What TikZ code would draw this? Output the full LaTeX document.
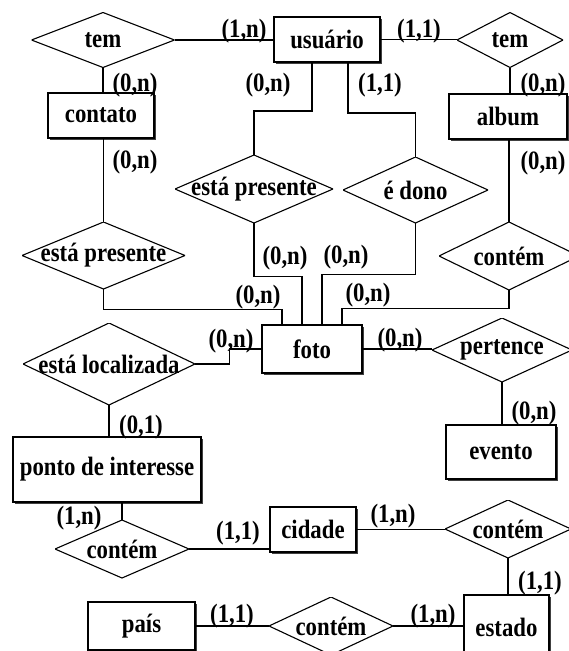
\documentclass[tikz,border=0pt]{standalone}
\usepackage{fontspec}
\setmainfont{Liberation Serif}
\newfontfamily\erfont{Liberation Serif}[FakeStretch=0.86]
\usetikzlibrary{positioning,shadows}

\begin{document}
\begin{tikzpicture}[x=1pt,y=-1pt,font=\erfont\fontsize{26.5}{28}\selectfont\bfseries,
  ent/.style 2 args={rectangle,draw,line width=1.6pt,fill=white,inner sep=0pt,minimum width=#1,minimum height=#2,
    drop shadow={shadow xshift=1.6pt,shadow yshift=-1.6pt,fill=black!75,opacity=1}},
  rel/.style 2 args={rectangle,inner sep=0pt,minimum width=#1,minimum height=#2,
    path picture={\draw[line width=1.1pt] (path picture bounding box.north)--(path picture bounding box.east)
      --(path picture bounding box.south)--(path picture bounding box.west)--cycle;}},
  card/.style={inner sep=0pt},
  l/.style={line width=1.4pt}]
\useasboundingbox (0,0) rectangle (569,651);
\clip (0,0) rectangle (569,651);
% --- entities ---
\node[ent={106pt}{45pt}] (usuario) at (327,39.5) {usuário};
\node[ent={106pt}{45pt}] (contato) at (101,115.5) {contato};
\node[ent={118pt}{45pt}] (album) at (508,116.5) {album};
\node[ent={100pt}{48pt}] (foto) at (312,349) {foto};
\node[ent={188pt}{65pt}] (ponto) at (107,469.5) {ponto de interesse};
\node[ent={110pt}{54pt}] (evento) at (501,452) {evento};
\node[ent={86pt}{45pt}] (cidade) at (313,529.5) {cidade};
\node[ent={85pt}{64pt}] (estado) at (506.5,627) {estado};
\node[ent={107pt}{48pt}] (pais) at (141.5,626) {país};
% --- relationships ---
\node[rel={143pt}{55pt}] (temL) at (103,40) {tem};
\node[rel={106pt}{55pt}] (temR) at (510,40) {tem};
\node[rel={163pt}{67pt}] (presL) at (103.5,255.5) {está presente};
\node[rel={158pt}{68pt}] (presM) at (254,189) {está presente};
\node[rel={145pt}{66pt}] (dono) at (415.5,190) {é dono};
\node[rel={140pt}{68pt}] (contemA) at (509,256) {contém};
\node[rel={140pt}{64pt}] (pertence) at (502,350) {pertence};
\node[rel={172pt}{82pt}] (local) at (109,364) {está localizada};
\node[rel={134pt}{58pt}] (contemP) at (122,549) {contém};
\node[rel={126pt}{58pt}] (contemC) at (508,529) {contém};
\node[rel={124pt}{58pt}] (contemE) at (331,626) {contém};
% --- connectors ---
\draw[l] (temL.east) -- (temL.east -| usuario.west);
\draw[l] (temL.south) -- (temL.south |- contato.north);
\draw[l] (usuario.east) -- (usuario.east -| temR.west);
\draw[l] (temR.south) -- (temR.south |- album.north);
\draw[l] (presL.north |- contato.south) -- (presL.north);
\draw[l] (contemA.north |- album.south) -- (contemA.north);
\draw[l] ([xshift=-15pt]usuario.south) -- ++(0,48) -| (presM.north);
\draw[l] ([xshift=21pt]usuario.south) -- ++(0,50) -| (dono.north);
\draw[l] (presL.south) -- ++(0,20) -| ([xshift=-30pt]foto.north);
\draw[l] (presM.south) -- ++(0,53) -| ([xshift=-10pt]foto.north);
\draw[l] (dono.south) -- ++(0,51) -| ([xshift=10pt]foto.north);
\draw[l] (contemA.south) -- ++(0,18) -| ([xshift=30pt]foto.north);
\draw[l] (local.east) -- ++(34,0) |- (foto.west);
\draw[l] (foto.east) -- (foto.east -| pertence.west);
\draw[l] (pertence.south) -- (pertence.south |- evento.north);
\draw[l] (local.south) -- (local.south |- ponto.north);
\draw[l] (contemP.north |- ponto.south) -- (contemP.north);
\draw[l] (contemP.east) -- (contemP.east -| cidade.west);
\draw[l] (cidade.east) -- (cidade.east -| contemC.west);
\draw[l] (contemC.south) -- (contemC.south |- estado.north);
\draw[l] (pais.east) -- (pais.east -| contemE.west);
\draw[l] (contemE.east) -- (contemE.east -| estado.west);
% --- cardinalities ---
\node[card] (cd1) at (244,31) {(1,n)};
\node[card] (cd2) at (419,31) {(1,1)};
\node[card] (cd3) at (135,85) {(0,n)};
\node[card] (cd4) at (268,85) {(0,n)};
\node[card] (cd5) at (380,85) {(1,1)};
\node[card] (cd6) at (543,85) {(0,n)};
\node[card] (cd7) at (135,162) {(0,n)};
\node[card] (cd8) at (543,163) {(0,n)};
\node[card] (cd9) at (285,258) {(0,n)};
\node[card] (cd10) at (346,257) {(0,n)};
\node[card] (cd11) at (258,297) {(0,n)};
\node[card] (cd12) at (368,295) {(0,n)};
\node[card] (cd13) at (231,341) {(0,n)};
\node[card] (cd14) at (400,340) {(0,n)};
\node[card] (cd15) at (534,413) {(0,n)};
\node[card] (cd16) at (141,427) {(0,1)};
\node[card] (cd17) at (79,518) {(1,n)};
\node[card] (cd18) at (238,533) {(1,1)};
\node[card] (cd19) at (393,516) {(1,n)};
\node[card] (cd20) at (540,583) {(1,1)};
\node[card] (cd21) at (232,616) {(1,1)};
\node[card] (cd22) at (433,616) {(1,n)};
\end{tikzpicture}
\end{document}
